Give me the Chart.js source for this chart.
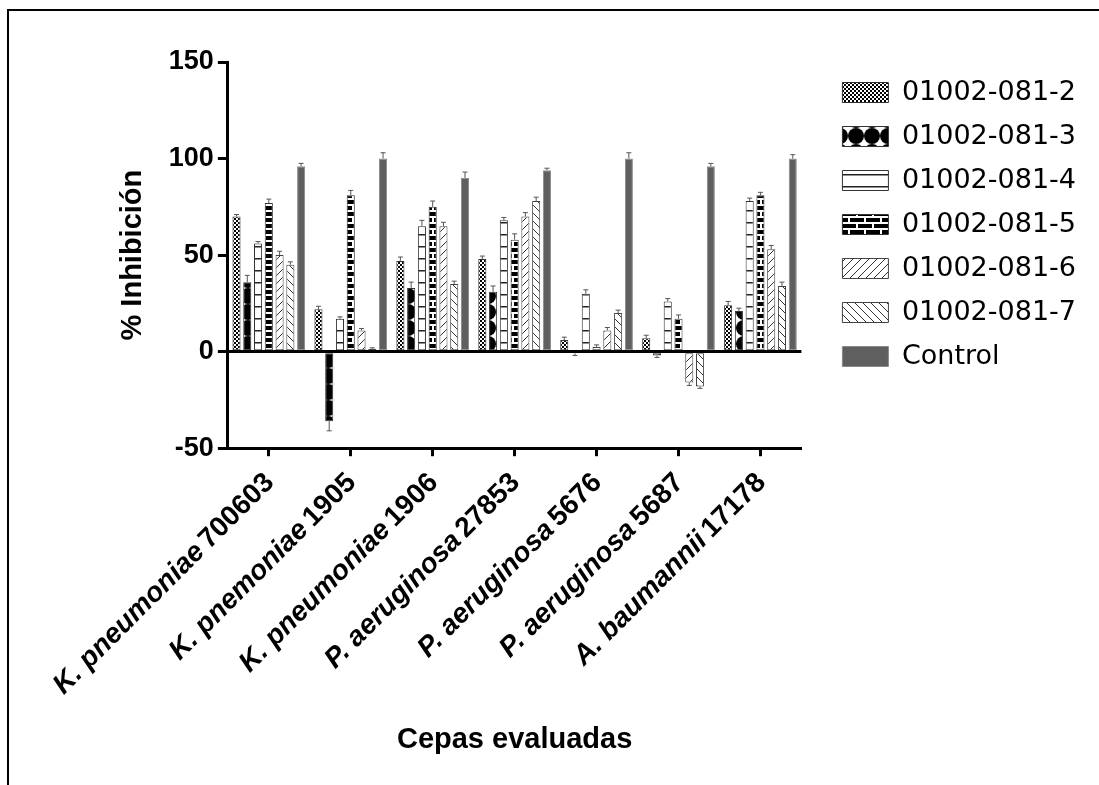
<!DOCTYPE html>
<html>
<head>
<meta charset="utf-8">
<script src="https://cdn.jsdelivr.net/npm/chart.js@4.4.0/dist/chart.umd.min.js"></script>
<style>
  html, body { margin: 0; padding: 0; background: #fff; overflow: hidden; }
  #frame { position: absolute; left: 7px; top: 9px; width: 1200px; height: 900px;
           border-top: 2px solid #000; border-left: 2px solid #000; }
  #myChart { position: absolute; left: 0; top: 0; }
</style>
</head>
<body>
<div id="frame"></div>
<canvas id="myChart" width="1099" height="785"></canvas>
<script>
// strains on the x axis (species in italics, strain number upright)
var species = ["K. pneumoniae", "K. pnemoniae", "K. pneumoniae", "P. aeruginosa", "P. aeruginosa", "P. aeruginosa", "A. baumannii"];
var strains = ["700603", "1905", "1906", "27853", "5676", "5687", "17178"];

var seriesNames = ["01002-081-2", "01002-081-3", "01002-081-4", "01002-081-5", "01002-081-6", "01002-081-7", "Control"];

// % inhibition per compound
var s2 = [70, 22, 47, 48, 6, 7, 24];
var s3 = [36, -36, 33, 31, -1, -2, 21];
var s4 = [56, 17, 65, 68, 30, 26, 78];
var s5 = [77, 81, 75, 58, 2.5, 17, 81];
var s6 = [50, 11, 65, 70, 11, -16, 53];
var s7 = [45, 1.5, 35, 78, 20, -18, 34];
var control = [96, 100, 90, 94, 100, 96, 100];

// error (SD) per bar
var e2 = [1, 1.5, 2, 1.5, 1.5, 1.5, 2];
var e3 = [3.5, 5, 3, 3, 1, 1, 1.5];
var e4 = [1, 1, 3, 1.5, 2, 1.5, 1.5];
var e5 = [2, 2.5, 3, 3, 1, 2, 1.5];
var e6 = [2, 1, 2, 2, 1.5, 1.5, 2];
var e7 = [1.5, 0.5, 1.5, 2, 1.5, 1, 2];
var eCtrl = [1.5, 3, 3, 1, 3, 1.5, 2];

var yTicks = [-50, 0, 50, 100, 150];

function makePattern(w, h, draw) {
    var c = document.createElement("canvas");
    c.width = w; c.height = h;
    var g = c.getContext("2d");
    draw(g, w, h);
    return g.createPattern(c, "repeat");
}

var checker = makePattern(4, 4, function(g){
    g.fillStyle = "#fff"; g.fillRect(0, 0, 4, 4);
    g.fillStyle = "#000"; g.fillRect(0, 0, 2, 2); g.fillRect(2, 2, 2, 2);
});
var blobs = makePattern(16, 16, function(g){
    g.fillStyle = "#fff"; g.fillRect(0, 0, 16, 16);
    g.fillStyle = "#000"; g.beginPath(); g.arc(8, 8, 8, 0, Math.PI * 2); g.fill();
});
var hlines = makePattern(8, 12, function(g){
    g.fillStyle = "#fff"; g.fillRect(0, 0, 8, 12);
    g.fillStyle = "#222"; g.fillRect(0, 6, 8, 1.5);
});
var bricks = makePattern(16, 12, function(g){
    g.fillStyle = "#000"; g.fillRect(0, 0, 16, 12);
    g.fillStyle = "#fff";
    g.fillRect(0, 0, 16, 2); g.fillRect(0, 6, 16, 2);
    g.fillRect(0, 0, 2, 6); g.fillRect(8, 6, 2, 6);
});
var fwd = makePattern(8, 8, function(g){
    g.fillStyle = "#fff"; g.fillRect(0, 0, 8, 8);
    g.strokeStyle = "#333"; g.lineWidth = 1;
    g.beginPath(); g.moveTo(-1, 9); g.lineTo(9, -1); g.stroke();
});
var back = makePattern(8, 8, function(g){
    g.fillStyle = "#fff"; g.fillRect(0, 0, 8, 8);
    g.strokeStyle = "#333"; g.lineWidth = 1;
    g.beginPath(); g.moveTo(-1, -1); g.lineTo(9, 9); g.stroke();
});

var allValues = [s2, s3, s4, s5, s6, s7, control];
var allErrors = [e2, e3, e4, e5, e6, e7, eCtrl];
var fills = [checker, blobs, hlines, bricks, fwd, back, "#5f5f5f"];
var borders = ["#333", "#333", "#333", "#333", "#444", "#444", "#8a8a8a"];

var datasets = [];
for (var i = 0; i < allValues.length; i++) {
    datasets.push({
        label: seriesNames[i],
        data: allValues[i],
        errors: allErrors[i],
        backgroundColor: fills[i],
        borderColor: borders[i],
        borderWidth: 1,
        borderSkipped: false,
        barPercentage: 0.75,
        categoryPercentage: 0.92
    });
}

var labels = [];
for (var k = 0; k < species.length; k++) labels.push(species[k] + " " + strains[k]);

// whiskers above positive bars, below negative ones
var errorBars = {
    id: "errorBars",
    afterDatasetsDraw: function(chart) {
        var ctx = chart.ctx, y = chart.scales.y;
        ctx.save();
        ctx.strokeStyle = "#555";
        ctx.lineWidth = 1;
        chart.data.datasets.forEach(function(ds, di){
            var meta = chart.getDatasetMeta(di);
            meta.data.forEach(function(bar, j){
                var v = ds.data[j], e = ds.errors[j];
                var dir = v < 0 ? -1 : 1;
                var y0 = y.getPixelForValue(v), y1 = y.getPixelForValue(v + dir * e);
                ctx.beginPath();
                ctx.moveTo(bar.x, y0); ctx.lineTo(bar.x, y1);
                ctx.moveTo(bar.x - 2.5, y1); ctx.lineTo(bar.x + 2.5, y1);
                ctx.stroke();
            });
        });
        ctx.restore();
    }
};

// rotated category labels with italic species name
var strainLabels = {
    id: "strainLabels",
    afterDraw: function(chart) {
        var ctx = chart.ctx, x = chart.scales.x, bottom = chart.chartArea.bottom;
        ctx.save();
        ctx.fillStyle = "#000";
        ctx.textAlign = "right";
        ctx.textBaseline = "middle";
        for (var i = 0; i < strains.length; i++) {
            var px = x.getPixelForValue(i);
            ctx.save();
            ctx.translate(px + 1, bottom + 30);
            ctx.rotate(-Math.PI / 4);
            ctx.font = "bold 28px 'Liberation Sans', Arial, sans-serif";
            ctx.fillText(strains[i], 0, 0);
            var w = ctx.measureText(strains[i]).width;
            ctx.font = "italic bold 28px 'Liberation Sans', Arial, sans-serif";
            ctx.fillText(species[i], -w - 5, 0);
            ctx.restore();
        }
        ctx.restore();
    }
};

// leave a gap between the plot and the legend
var legendGap = {
    id: "legendGap",
    afterLayout: function(chart) {
        chart.legend.left += 24;
        chart.legend.right += 24;
    }
};

var ctx = document.getElementById("myChart");
var chart = new Chart(ctx, {
    type: "bar",
    data: {
        labels: labels,
        datasets: datasets
    },
    options: {
        responsive: false,
        animation: false,
        layout: { padding: { left: 0, top: 62, right: 37, bottom: 0 } },
        plugins: {
            tooltip: { enabled: false },
            legend: {
                position: "right",
                align: "start",
                labels: {
                    boxWidth: 46,
                    boxHeight: 20,
                    padding: 17,
                    color: "#000",
                    font: { family: "'DejaVu Sans', sans-serif", size: 27 }
                }
            }
        },
        scales: {
            x: {
                grid: { display: true, drawOnChartArea: false, drawTicks: true, offset: false,
                        tickLength: 8, tickWidth: 3, tickColor: "#000" },
                border: { color: "#000", width: 3 },
                ticks: { display: false },
                title: {
                    display: true,
                    text: "Cepas evaluadas",
                    color: "#000",
                    font: { family: "'Liberation Sans', Arial, sans-serif", size: 29, weight: "bold" },
                    padding: { top: 266, bottom: 28 }
                }
            },
            y: {
                min: yTicks[0],
                max: yTicks[yTicks.length - 1],
                afterBuildTicks: function(scale) {
                    scale.ticks = yTicks.map(function(v){ return { value: v }; });
                },
                grid: {
                    drawOnChartArea: true,
                    color: function(c){ return c.tick && c.tick.value === 0 ? "#000" : "rgba(0,0,0,0)"; },
                    lineWidth: function(c){ return c.tick && c.tick.value === 0 ? 3 : 1; },
                    drawTicks: true,
                    tickLength: 10,
                    tickWidth: 3,
                    tickColor: "#000"
                },
                border: { color: "#000", width: 3 },
                ticks: {
                    color: "#000",
                    padding: 4,
                    font: { family: "'Liberation Sans', Arial, sans-serif", size: 27, weight: "bold" }
                },
                title: {
                    display: true,
                    text: "% Inhibición",
                    color: "#000",
                    font: { family: "'Liberation Sans', Arial, sans-serif", size: 29, weight: "bold" },
                    padding: { top: 116, bottom: 14 }
                }
            }
        }
    },
    plugins: [errorBars, strainLabels, legendGap]
});
</script>
</body>
</html>
